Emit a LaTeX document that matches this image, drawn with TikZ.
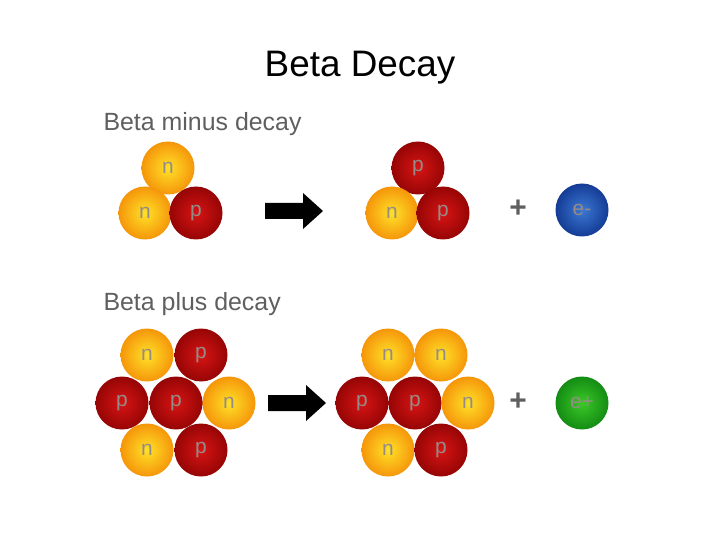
\documentclass[tikz,border=0pt]{standalone}
\usepackage{fontspec}
\setmainfont{Liberation Sans}
\definecolor{neuin}{RGB}{255,225,40}
\definecolor{neuout}{RGB}{245,150,10}
\definecolor{proin}{RGB}{215,20,20}
\definecolor{proout}{RGB}{150,5,5}
\definecolor{elbin}{RGB}{60,120,210}
\definecolor{elbout}{RGB}{20,60,150}
\definecolor{elgin}{RGB}{60,200,40}
\definecolor{elgout}{RGB}{20,140,20}
\definecolor{lbl}{RGB}{150,140,135}
\definecolor{hd}{RGB}{95,95,95}
\begin{document}
\begin{tikzpicture}[x=1bp,y=-1bp,
  ball/.style={circle,minimum size=53bp,inner sep=0pt,text=lbl,font=\fontsize{21}{21}\selectfont},
  nball/.style={ball,inner color=neuin,outer color=neuout},
  pball/.style={ball,inner color=proin,outer color=proout},
  head/.style={text=hd,font=\fontsize{25}{25}\selectfont,anchor=west},
  plus/.style={font=\fontsize{30}{30}\selectfont\bfseries,text=hd},
  barrow/.style={fill=black}]
\useasboundingbox (0,0) rectangle (720,540);
\node (title) at (360,68) {\fontsize{37}{37}\selectfont Beta Decay};
\node[head] (h1) at (100,124) {Beta minus decay};
\node[head] (h2) at (100,304) {Beta plus decay};
% minus left
\node[nball] (a1) at (168,168) {n};
\node[nball] (a2) at (145,213) {n};
\node[pball] (a3) at (196,213) {p};
\fill[barrow] (265,203) -- (303,203) -- (303,193) -- (323,211) -- (303,229) -- (303,219) -- (265,219) -- cycle;
\node[pball] (b1) at (418,168) {p};
\node[nball] (b2) at (392,213) {n};
\node[pball] (b3) at (443,213) {p};
\node[plus] (pl1) at (518,209) {+};
\node[ball,inner color=elbin,outer color=elbout] (e1) at (582,210) {e-};
% plus left
\node[nball] (c1) at (147,355) {n};
\node[pball] (c2) at (201,355) {p};
\node[pball] (c3) at (122,403) {p};
\node[nball] (c5) at (229,403) {n};
\node[pball] (c4) at (176,403) {p};
\node[nball] (c6) at (147,450) {n};
\node[pball] (c7) at (201,450) {p};
\fill[barrow] (268,395) -- (306,395) -- (306,385) -- (326,403) -- (306,421) -- (306,411) -- (268,411) -- cycle;
\node[nball] (d1) at (388,355) {n};
\node[nball] (d2) at (441,355) {n};
\node[pball] (d3) at (362,403) {p};
\node[nball] (d5) at (468,403) {n};
\node[pball] (d4) at (415,403) {p};
\node[nball] (d6) at (388,450) {n};
\node[pball] (d7) at (441,450) {p};
\node[plus] (pl2) at (518,402) {+};
\node[ball,inner color=elgin,outer color=elgout] (e2) at (582,403) {e+};
\end{tikzpicture}
\end{document}
